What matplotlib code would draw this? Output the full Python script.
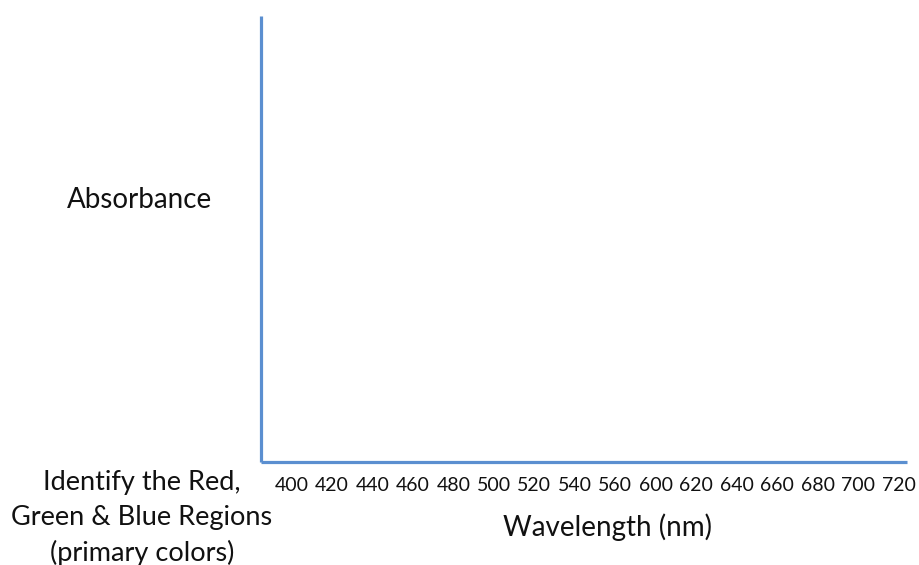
import matplotlib
matplotlib.use("Agg")
import matplotlib.pyplot as plt
import matplotlib.patheffects as pe

plt.rcParams['font.family'] = ['Lato', 'DejaVu Sans']

# Data (blank template: tick labels only)
wavelength_labels = ["400", "420", "440", "460", "480", "500", "520", "540",
                     "560", "600", "620", "640", "660", "680", "700", "720"]
y_label = "Absorbance"
x_label = "Wavelength (nm)"
note_text = "Identify the Red,\nGreen & Blue Regions\n(primary colors)"

W, H = 920, 565
fig = plt.figure(figsize=(W / 100, H / 100), dpi=100)

# axes placement in pixels
left_px, right_px, top_px, bottom_px = 261, 907, 16, 462
ax = fig.add_axes([left_px / W, 1 - bottom_px / H,
                   (right_px - left_px) / W, (bottom_px - top_px) / H])

# map category positions so that tick labels sit at their pixel centres
first_c, last_c = 291.5, 898.5
pitch = (last_c - first_c) / (len(wavelength_labels) - 1)
ax.set_xlim((left_px - first_c) / pitch, (right_px - first_c) / pitch)
ax.set_ylim(0, 1)

positions = list(range(len(wavelength_labels)))
ax.set_xticks(positions)
ax.set_xticklabels(wavelength_labels, fontsize=14, color="#111111")
ax.tick_params(axis="x", length=0, pad=11)
ax.set_yticks([])

line_color = "#5b8fd0"
for side in ("top", "right"):
    ax.spines[side].set_visible(False)
shadow = [pe.SimplePatchShadow(offset=(1.2, -1.2), shadow_rgbFace="#888888", alpha=0.35),
          pe.Normal()]
for side in ("left", "bottom"):
    ax.spines[side].set_color(line_color)
    ax.spines[side].set_linewidth(2.3)
    ax.spines[side].set_capstyle("butt")
    ax.spines[side].set_path_effects(shadow)

fig.text(140 / W, 1 - 200 / H, y_label, fontsize=20, ha="center", va="center",
         color="#111111")
fig.text(608 / W, 1 - 527 / H, x_label, fontsize=20, ha="center", va="center",
         color="#111111")
fig.text(142 / W, 1 - 518 / H, note_text, fontsize=19.5, ha="center", va="center",
         linespacing=1.5, color="#111111", multialignment="center")

fig.savefig("out.png", dpi=100, facecolor="white")
